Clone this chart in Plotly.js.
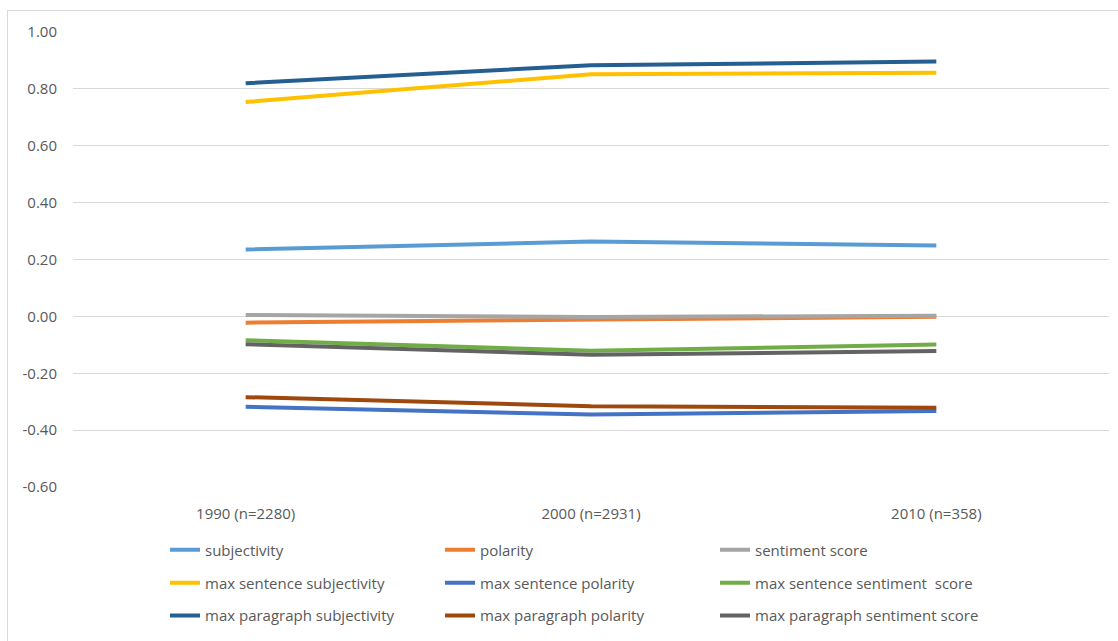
<!DOCTYPE html>
<html>
<head>
<meta charset="utf-8">
<script src="https://cdn.plot.ly/plotly-3.0.1.min.js"></script>
<style>
  html, body { margin: 0; padding: 0; background: #ffffff; }
  #wrap { position: relative; width: 1118px; height: 641px; overflow: hidden; }
  #frame { position: absolute; left: 7px; top: 10px; width: 1112px; height: 640px; border: 1px solid #d9d9d9; box-sizing: border-box; pointer-events: none; }
  #chart { position: absolute; left: 0; top: 0; width: 1118px; height: 641px; }
</style>
</head>
<body>
<div id="wrap">
  <div id="chart"></div>
  <div id="frame"></div>
</div>
<script>
// Categories (x axis)
const categories = ["1990 (n=2280)", "2000 (n=2931)", "2010 (n=358)"];

// Series values
const subjectivity = [0.235, 0.263, 0.249];
const polarity = [-0.022, -0.011, -0.001];
const sentimentScore = [0.005, -0.002, 0.002];
const maxSentenceSubjectivity = [0.754, 0.851, 0.857];
const maxSentencePolarity = [-0.318, -0.345, -0.333];
const maxSentenceSentimentScore = [-0.084, -0.121, -0.099];
const maxParagraphSubjectivity = [0.820, 0.883, 0.896];
const maxParagraphPolarity = [-0.284, -0.316, -0.321];
const maxParagraphSentimentScore = [-0.098, -0.135, -0.122];

// Series names
const seriesNames = [
  "subjectivity", "polarity", "sentiment score",
  "max sentence subjectivity", "max sentence polarity", "max sentence sentiment  score",
  "max paragraph subjectivity", "max paragraph polarity", "max paragraph sentiment score"
];
const seriesValues = [
  subjectivity, polarity, sentimentScore,
  maxSentenceSubjectivity, maxSentencePolarity, maxSentenceSentimentScore,
  maxParagraphSubjectivity, maxParagraphPolarity, maxParagraphSentimentScore
];
const seriesColors = [
  "#5B9BD5", "#ED7D31", "#A5A5A5",
  "#FFC000", "#4472C4", "#70AD47",
  "#255E91", "#9E480E", "#636363"
];
const legendIds = ["legend", "legend", "legend", "legend2", "legend2", "legend2", "legend3", "legend3", "legend3"];

// Y tick values / labels
const yTickVals = [-0.6, -0.4, -0.2, 0, 0.2, 0.4, 0.6, 0.8, 1.0];
const yTickText = ["-0.60", "-0.40", "-0.20", "0.00", "0.20", "0.40", "0.60", "0.80", "1.00"];

const FONT = "'Open Sans', 'Noto Sans', sans-serif";
const TXT = "#595959";

const traces = seriesNames.map((name, i) => ({
  type: "scatter",
  mode: "lines",
  name: name,
  x: categories,
  y: seriesValues[i],
  line: { color: seriesColors[i], width: 4, shape: "linear" },
  legend: legendIds[i],
  hoverinfo: "skip"
}));

function legendRow(yPaper) {
  return {
    orientation: "h",
    x: 0.0888,
    xanchor: "left",
    y: yPaper,
    yanchor: "middle",
    bgcolor: "rgba(0,0,0,0)",
    font: { family: FONT, size: 15, color: TXT },
    entrywidth: 230,
    entrywidthmode: "pixels",
    itemclick: false,
    itemdoubleclick: false
  };
}

const layout = {
  width: 1118,
  height: 641,
  margin: { l: 73, r: 9, t: 32, b: 151, pad: 0 },
  paper_bgcolor: "rgba(0,0,0,0)",
  plot_bgcolor: "rgba(0,0,0,0)",
  font: { family: FONT, size: 15, color: TXT },
  showlegend: true,
  hovermode: false,
  xaxis: {
    type: "category",
    range: [-0.5, 2.5],
    showgrid: false,
    zeroline: false,
    showline: false,
    ticks: "outside",
    ticklen: 13,
    tickcolor: "rgba(0,0,0,0)",
    tickfont: { family: FONT, size: 15, color: TXT },
    fixedrange: true
  },
  yaxis: {
    range: [-0.6, 1.0],
    tickvals: yTickVals,
    ticktext: yTickText,
    showgrid: true,
    gridcolor: "#d9d9d9",
    gridwidth: 1,
    zeroline: false,
    showline: false,
    ticks: "outside",
    ticklen: 12,
    tickcolor: "rgba(0,0,0,0)",
    tickfont: { family: FONT, size: 15, color: TXT },
    fixedrange: true
  },
  legend: legendRow(-0.1387),
  legend2: legendRow(-0.2108),
  legend3: legendRow(-0.2829)
};

Plotly.newPlot("chart", traces, layout, { displayModeBar: false, staticPlot: true });
</script>
</body>
</html>
